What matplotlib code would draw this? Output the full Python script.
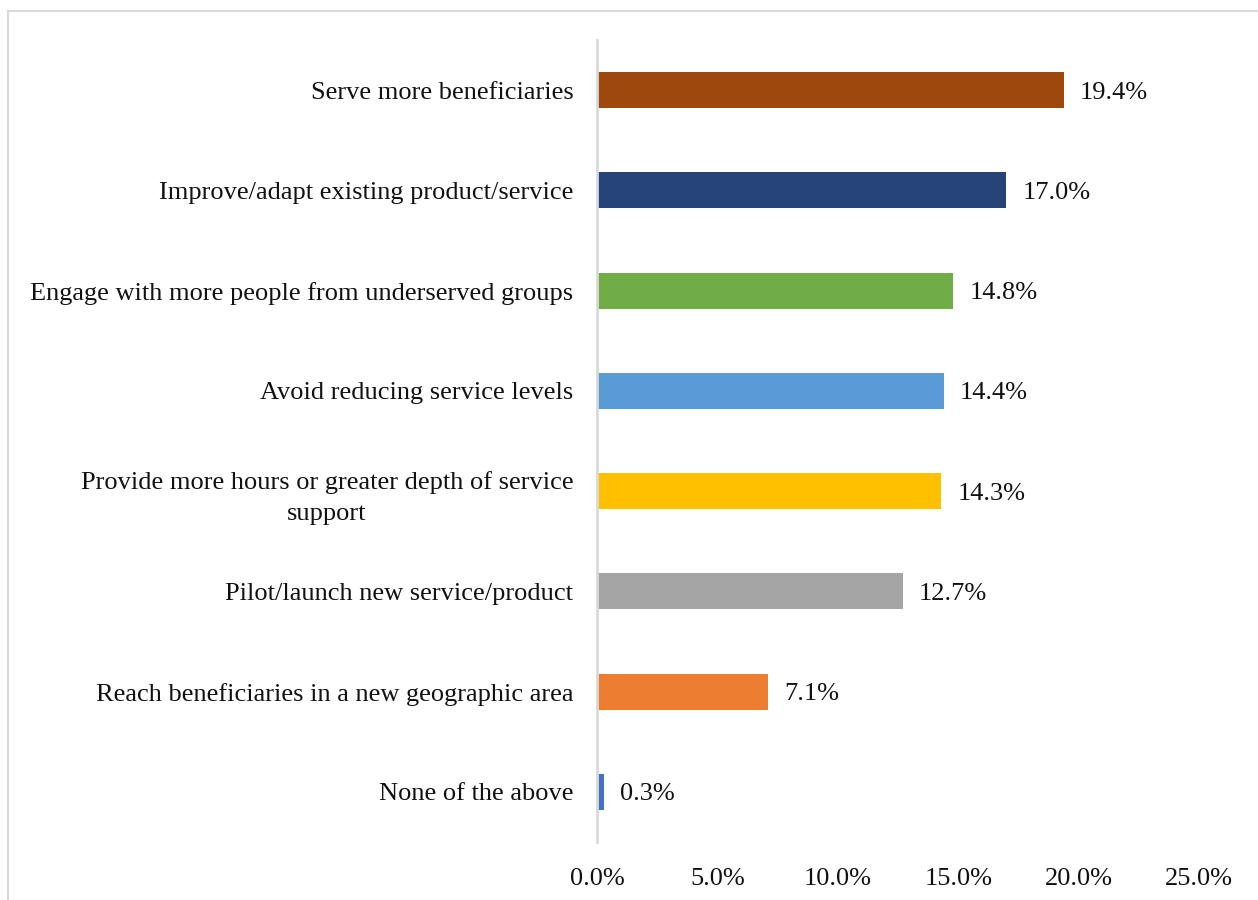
import matplotlib.pyplot as plt
from matplotlib.patches import Rectangle
from matplotlib.ticker import FuncFormatter

categories = [
    "Serve more beneficiaries",
    "Improve/adapt existing product/service",
    "Engage with more people from underserved groups",
    "Avoid reducing service levels",
    "Provide more hours or greater depth of service\nsupport",
    "Pilot/launch new service/product",
    "Reach beneficiaries in a new geographic area",
    "None of the above",
]
values = [19.4, 17.0, 14.8, 14.4, 14.3, 12.7, 7.1, 0.3]
colors = ["#9E480E", "#264478", "#70AD47", "#5B9BD5",
          "#FFC000", "#A5A5A5", "#ED7D31", "#4472C4"]
xticks = [0, 5, 10, 15, 20, 25]

plt.rcParams['font.family'] = ['Liberation Serif', 'DejaVu Serif']

fig = plt.figure(figsize=(12.58, 9), dpi=100)
ax = fig.add_axes([0.4746, 0.0644, 0.4785, 0.8912])

# light frame around the chart area
fig.patches.append(Rectangle((8 / 1258, -0.1), 1.2, 1 - 11 / 900 + 0.1,
                             transform=fig.transFigure, fill=False,
                             edgecolor="#D9D9D9", linewidth=1.5))

ypos = list(range(len(categories)))
ax.barh(ypos, values, height=0.36, color=colors)
for y, v in zip(ypos, values):
    ax.annotate(f"{v:.1f}%", (v, y), xytext=(11.5, 0), textcoords="offset points",
                ha="left", va="center_baseline", fontsize=19, color="#111111")

ax.set_ylim(len(categories) - 0.5, -0.5)
ax.set_xlim(0, 25)
ax.set_xticks(xticks)
ax.xaxis.set_major_formatter(FuncFormatter(lambda x, p: f"{x:.1f}%"))
ax.set_yticks(ypos)
ax.set_yticklabels(categories)
for lbl in ax.get_yticklabels():
    lbl.set_multialignment("center")
    lbl.set_linespacing(1.55)

ax.tick_params(axis="both", length=0, labelsize=19, colors="#111111")
ax.tick_params(axis="y", pad=17)
ax.tick_params(axis="x", pad=19)
for s in ["top", "right", "bottom"]:
    ax.spines[s].set_visible(False)
ax.spines["left"].set_color("#D9D9D9")
ax.spines["left"].set_linewidth(2)

fig.savefig("out.png", dpi=100)
